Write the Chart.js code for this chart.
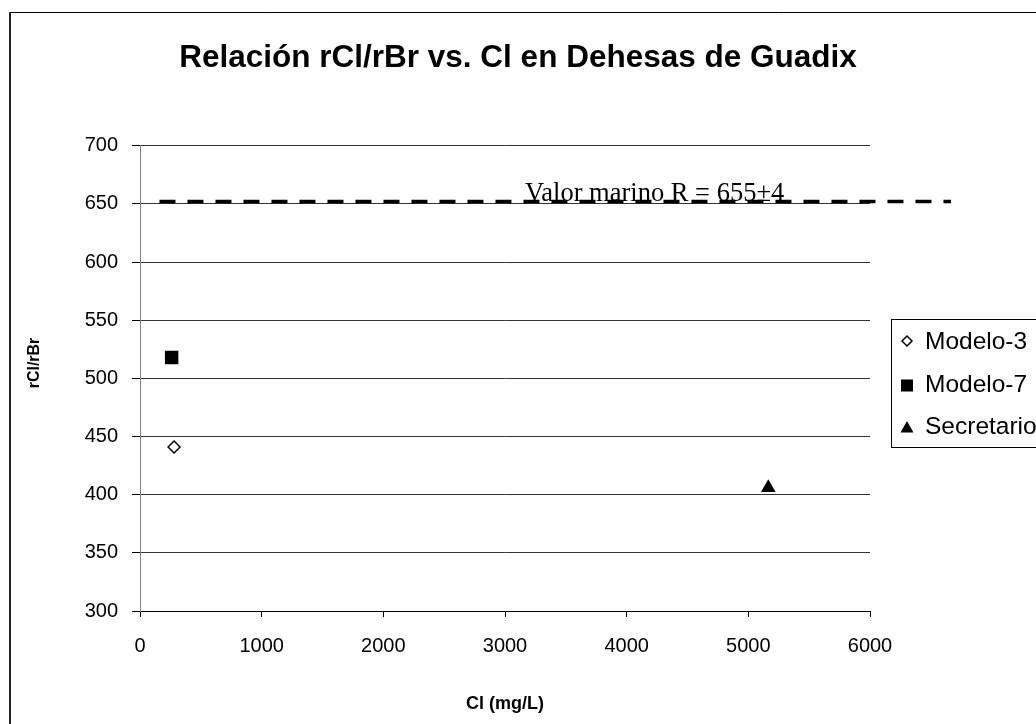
<!DOCTYPE html>
<html>
<head>
<meta charset="utf-8">
<script src="https://cdn.jsdelivr.net/npm/chart.js@4/dist/chart.umd.min.js"></script>
<style>
  html, body { margin: 0; padding: 0; background: #fff; overflow: hidden; }
  canvas { display: block; }
</style>
</head>
<body>
<canvas id="chart" width="1036" height="724"></canvas>
<script>
// data
const seriesNames = ['Modelo-3', 'Modelo-7', 'Secretario'];
const clValues = [280, 260, 5164];      // Cl (mg/L)
const ratioValues = [441, 518, 406];    // rCl/rBr
const xTicks = [0, 1000, 2000, 3000, 4000, 5000, 6000];
const yTicks = [300, 350, 400, 450, 500, 550, 600, 650, 700];
const marineX = [160, 6665];
const marineY = [652, 652];
const marineLabel = 'Valor marino R = 655\u00b14';
const marineLabelX = 3165;

const SANS = "'Liberation Sans', Arial, sans-serif";
Chart.defaults.font.family = SANS;
Chart.defaults.color = '#000';

const styles = [
  { pointStyle: 'rectRot', pointRadius: 6, backgroundColor: '#fff', borderColor: '#000', borderWidth: 1.5 },
  { pointStyle: 'rect', pointRadius: 9.5, backgroundColor: '#000', borderColor: '#000', borderWidth: 0 },
  { pointStyle: 'triangle', pointRadius: 8.5, backgroundColor: '#000', borderColor: '#000', borderWidth: 0 }
];

const datasets = seriesNames.map((name, i) => Object.assign({
  label: name,
  data: [{ x: clValues[i], y: ratioValues[i] }]
}, styles[i]));

datasets.push({
  label: 'marino',
  data: marineX.map((x, i) => ({ x: x, y: marineY[i] })),
  showLine: true,
  borderColor: '#000',
  borderWidth: 3.5,
  borderDash: [16, 12],
  pointRadius: 0,
  clip: false
});

// frame, y title, marine label and the boxed legend
const extras = {
  id: 'extras',
  beforeDraw(chart) {
    const ctx = chart.ctx;
    ctx.save();
    ctx.fillStyle = '#fff';
    ctx.fillRect(0, 0, chart.width, chart.height);
    ctx.strokeStyle = '#222';
    ctx.lineWidth = 2;
    ctx.beginPath();
    ctx.moveTo(10, 724);
    ctx.lineTo(10, 12);
    ctx.stroke();
    ctx.strokeStyle = '#000';
    ctx.lineWidth = 1;
    ctx.beginPath();
    ctx.moveTo(10, 12.5);
    ctx.lineTo(chart.width, 12.5);
    ctx.stroke();
    ctx.restore();
  },
  afterDraw(chart) {
    const ctx = chart.ctx;
    const xs = chart.scales.x, ys = chart.scales.y;
    ctx.save();

    // y axis title
    ctx.translate(35, 363);
    ctx.rotate(-Math.PI / 2);
    ctx.font = 'bold 16px ' + SANS;
    ctx.fillStyle = '#000';
    ctx.textAlign = 'center';
    ctx.textBaseline = 'middle';
    ctx.fillText('rCl/rBr', 0, 0);
    ctx.setTransform(1, 0, 0, 1, 0, 0);

    // marine label
    ctx.font = "26.5px 'Liberation Serif', 'Times New Roman', serif";
    ctx.textAlign = 'left';
    ctx.textBaseline = 'alphabetic';
    ctx.fillText(marineLabel, xs.getPixelForValue(marineLabelX), ys.getPixelForValue(marineY[0]) - 1);

    // legend
    const lx = 891.5, ly = 319.5;
    ctx.strokeStyle = '#000';
    ctx.lineWidth = 1;
    ctx.strokeRect(lx, ly, 200, 128);
    ctx.font = '24.5px ' + SANS;
    ctx.textBaseline = 'middle';
    const rows = [341, 384, 426];
    seriesNames.forEach((name, i) => {
      const cy = rows[i], cx = 907;
      ctx.fillStyle = '#000';
      ctx.beginPath();
      if (i === 0) {
        ctx.moveTo(cx, cy - 5); ctx.lineTo(cx + 5, cy); ctx.lineTo(cx, cy + 5); ctx.lineTo(cx - 5, cy); ctx.closePath();
        ctx.fillStyle = '#fff'; ctx.fill();
        ctx.lineWidth = 1.5; ctx.stroke();
      } else if (i === 1) {
        ctx.rect(cx - 6, cy - 4.5, 12, 12); ctx.fill();
      } else {
        ctx.moveTo(cx, cy - 5); ctx.lineTo(cx + 6.5, cy + 6.5); ctx.lineTo(cx - 6.5, cy + 6.5); ctx.closePath(); ctx.fill();
      }
      ctx.fillStyle = '#000';
      ctx.fillText(name, 925, cy + 1);
    });
    ctx.restore();
  }
};

new Chart(document.getElementById('chart'), {
  type: 'scatter',
  data: { datasets: datasets },
  options: {
    responsive: false,
    animation: false,
    events: [],
    layout: { padding: 0 },
    plugins: {
      legend: { display: false },
      tooltip: { enabled: false },
      title: {
        display: true,
        text: 'Relación rCl/rBr vs. Cl en Dehesas de Guadix',
        color: '#000',
        font: { size: 31.5, weight: 'bold' },
        padding: { top: 39, bottom: 69 }
      }
    },
    scales: {
      x: {
        type: 'linear',
        min: xTicks[0],
        max: xTicks[xTicks.length - 1],
        afterBuildTicks: s => { s.ticks = xTicks.map(v => ({ value: v })); },
        afterFit: s => { s.height = 113; },
        grid: { drawOnChartArea: false, drawTicks: true, tickLength: 6, tickColor: '#000' },
        border: { display: true, color: '#000', width: 1 },
        ticks: { font: { size: 20 }, color: '#000', padding: 17, maxRotation: 0, callback: v => String(v) },
        title: {
          display: true,
          text: 'Cl (mg/L)',
          color: '#000',
          font: { size: 18, weight: 'bold' },
          padding: { top: 0, bottom: 9 }
        }
      },
      y: {
        type: 'linear',
        min: yTicks[0],
        max: yTicks[yTicks.length - 1],
        afterBuildTicks: s => { s.ticks = yTicks.map(v => ({ value: v })); },
        afterFit: s => { s.width = 140; },
        grid: { color: '#333', lineWidth: 1, drawTicks: true, tickLength: 8, tickColor: '#000' },
        border: { display: true, color: '#808080', width: 1 },
        ticks: { font: { size: 20 }, color: '#000', padding: 14, callback: v => String(v) }
      },
      yR: {
        type: 'linear',
        position: 'right',
        display: true,
        grid: { display: false },
        border: { display: false },
        ticks: { display: false },
        afterFit: s => { s.width = 166; }
      }
    }
  },
  plugins: [extras]
});
</script>
</body>
</html>
